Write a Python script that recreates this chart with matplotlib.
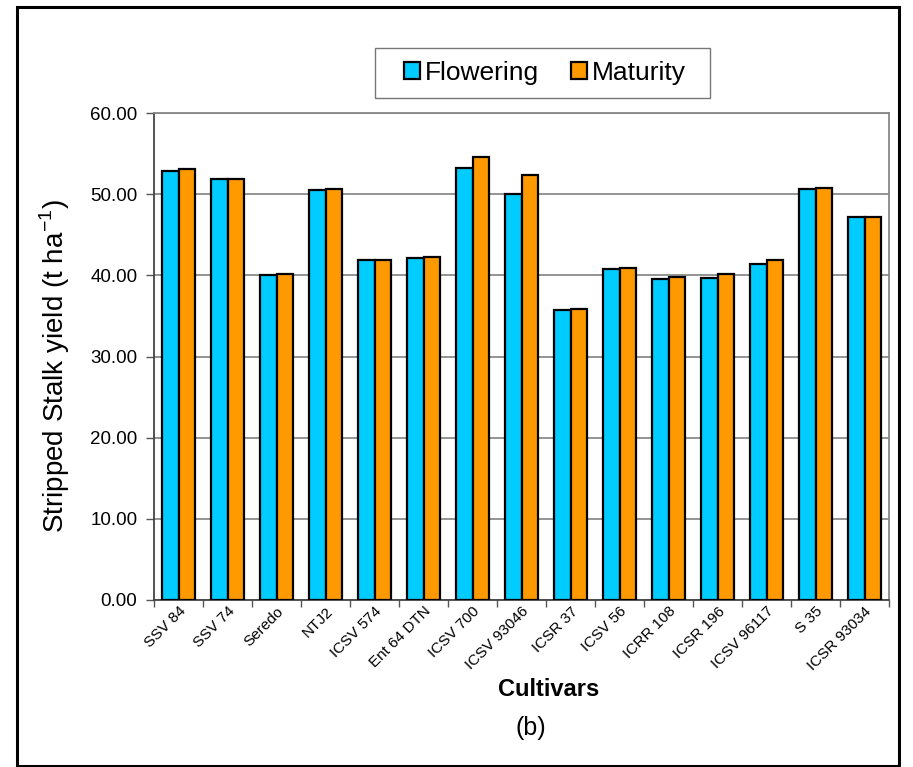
import numpy as np
import matplotlib.pyplot as plt
from matplotlib.patches import Rectangle

plt.rcParams['font.family'] = ['Liberation Sans', 'DejaVu Sans']

cultivars = ['SSV 84', 'SSV 74', 'Seredo', 'NTJ2', 'ICSV 574', 'Ent 64 DTN',
             'ICSV 700', 'ICSV 93046', 'ICSR 37', 'ICSV 56', 'ICRR 108',
             'ICSR 196', 'ICSV 96117', 'S 35', 'ICSR 93034']
flowering = [52.87, 51.90, 40.10, 50.53, 41.88, 42.10, 53.28, 50.00,
             35.70, 40.81, 39.58, 39.70, 41.39, 50.60, 47.17]
maturity = [53.04, 51.93, 40.14, 50.65, 41.92, 42.25, 54.60, 52.30,
            35.80, 40.94, 39.83, 40.15, 41.92, 50.74, 47.20]
yticks = [0, 10, 20, 30, 40, 50, 60]

W, H = 913, 767
fig = plt.figure(figsize=(W/100, H/100), dpi=100)
ax = fig.add_axes([154/W, 1 - 600/H, (889 - 154)/W, (600 - 113)/H])

x = np.arange(len(cultivars))
w = 0.33
b1 = ax.bar(x - w/2, flowering, w, color='#00CCFF', edgecolor='black',
            linewidth=1.6, label='Flowering', zorder=3)
b2 = ax.bar(x + w/2, maturity, w, color='#FF9900', edgecolor='black',
            linewidth=1.6, label='Maturity', zorder=3)

ax.set_xlim(-0.5, len(cultivars) - 0.5)
ax.set_ylim(0, 60)
ax.set_yticks(yticks)
ax.set_yticklabels([f'{v:.2f}' for v in yticks], fontsize=13.5)
ax.yaxis.grid(True, color='#777777', linewidth=1.1, zorder=0)

# ticks between categories, labels at centres
ax.set_xticks(np.arange(-0.5, len(cultivars), 1.0))
ax.set_xticklabels([])
ax.set_xticks(x, minor=True)
ax.set_xticklabels(cultivars, minor=True, rotation=45, ha='right',
                   va='top', rotation_mode='anchor', fontsize=11)
ax.tick_params(axis='x', which='minor', length=0, pad=3)
ax.tick_params(axis='x', which='major', length=5, width=1, color='#555555')
ax.tick_params(axis='y', length=6, width=1, color='#555555', pad=6)

ax.spines['left'].set_color('#444444')
ax.spines['bottom'].set_color('#444444')
ax.spines['top'].set_color('#888888')
ax.spines['right'].set_color('#888888')
for s in ax.spines.values():
    s.set_linewidth(1.3)

ax.set_ylabel('Stripped Stalk yield (t ha$^{\\mathregular{-1}}$)', fontsize=20)
ax.yaxis.set_label_coords(-(154 - 72) / (889 - 154), 0.48)

fig.text(549/W, 1 - 689/H, 'Cultivars', fontsize=17, fontweight='bold',
         ha='center', va='center')
fig.text(531/W, 1 - 728/H, '(b)', fontsize=18, ha='center', va='center')

# legend box drawn separately so the padding matches
leg = fig.legend(handles=[b1, b2], loc='center', bbox_to_anchor=(545/W, 1 - 73/H),
                 ncol=2, fontsize=19, frameon=False,
                 handlelength=0.6, handleheight=0.6,
                 handletextpad=0.2, columnspacing=1.2)
fig.patches.append(Rectangle((375/W, 1 - 98/H), 335/W, 50/H, transform=fig.transFigure,
                             fill=False, edgecolor='#777777', linewidth=1.0))

fig.patches.append(Rectangle((17/W, 1 - 766/H), 882/W, 759/H, transform=fig.transFigure,
                             fill=False, edgecolor='black', linewidth=2.2))

fig.savefig('out.png', dpi=100)
